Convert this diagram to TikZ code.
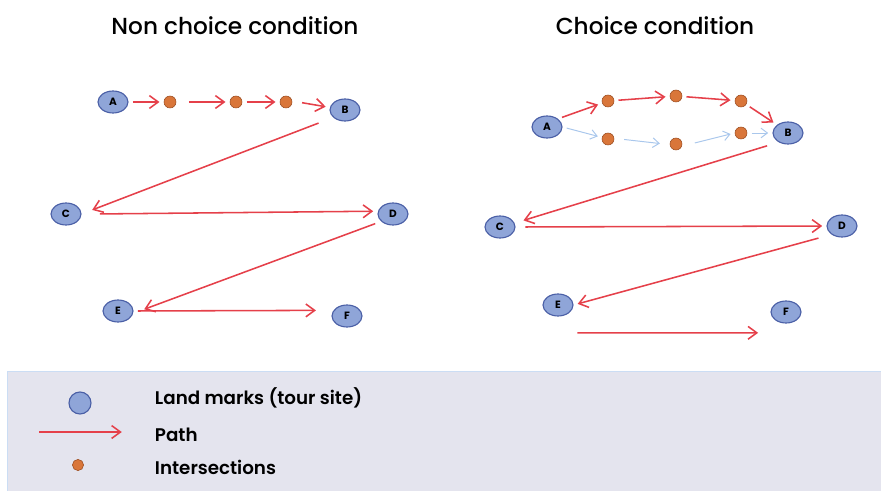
\documentclass[tikz,border=0pt]{standalone}
\usepackage{fontspec}
\setmainfont{Poppins}
\newfontfamily\popmed{Poppins Medium}
\newfontfamily\popsemi{Poppins SemiBold}
\usetikzlibrary{shapes.geometric, arrows.meta}

\definecolor{markfill}{HTML}{8FA5D8}
\definecolor{markline}{HTML}{4A5FA6}
\definecolor{crossfill}{HTML}{D9763A}
\definecolor{crossline}{HTML}{9C4E22}
\definecolor{pathred}{HTML}{E5404A}
\definecolor{pathblue}{HTML}{A9C7EC}
\definecolor{legendbg}{HTML}{E4E4EE}

\begin{document}
\begin{tikzpicture}[x=0.025cm, y=-0.025cm,
        landmark/.style={ellipse, draw=markline, fill=markfill, thick, inner sep=0pt, minimum width=7.5mm, minimum height=5.5mm, font=\fontsize{7.5}{7.5}\selectfont\bfseries},
        cross/.style={circle, draw=crossline, fill=crossfill, inner sep=0pt, minimum size=3mm},
        paths/.style={-{Straight Barb[length=2.2mm, width=3.2mm]}, line width=1.1pt, pathred, shorten <=3pt, shorten >=3pt},
        altpath/.style={-{Straight Barb[length=1.6mm, width=2.4mm]}, line width=0.7pt, pathblue, shorten <=3pt, shorten >=3pt},
        title/.style={font=\popmed\fontsize{16.5}{16.5}\selectfont},
        legtext/.style={anchor=west, font=\popsemi\fontsize{13}{13}\selectfont}
    ]
        \useasboundingbox (0,0) rectangle (881,491);

        % Titles
        \node[title] (tleft) at (235,26) {Non choice condition};
        \node[title] (tright) at (655,26) {Choice condition};

        % Nodes: non choice
        \node[landmark] (a0) at (113,102) {A};
        \node[landmark] (b0) at (345,110) {B};
        \node[landmark] (c0) at (66,214) {C};
        \node[landmark] (d0) at (393,214) {D};
        \node[landmark] (e0) at (118,311) {E};
        \node[landmark] (f0) at (347,316) {F};

        \node[cross] (i1) at (170,102) {};
        \node[cross] (i2) at (236,102) {};
        \node[cross] (i3) at (286,102) {};

        % Paths: non choice
        \draw[paths] (a0) -- (i1);
        \draw[paths] ([xshift=6pt]i1.east) -- (i2);
        \draw[paths] (i2) -- (i3);
        \draw[paths] ([xshift=4pt]i3.east) -- (b0);
        \draw[paths] ([xshift=-16pt]b0.south) -- ([xshift=8pt,yshift=-4pt]c0.north east);
        \draw[paths] ([xshift=10pt]c0.east) -- ([yshift=2pt]d0.west);
        \draw[paths] ([xshift=-2pt]d0.south west) -- ([xshift=8pt,yshift=6pt]e0.south east);
        \draw[paths] (e0.east) -- ([xshift=-8pt,yshift=4pt]f0.west);

        % Nodes: choice
        \node[landmark] (a1) at (547,127) {A};
        \node[landmark] (b1) at (788,133) {B};
        \node[landmark] (c1) at (500,227) {C};
        \node[landmark] (d1) at (842,226) {D};
        \node[landmark] (e1) at (558,305) {E};
        \node[landmark] (f1) at (786,312) {F};

        \node[cross] (u1) at (608,101) {};
        \node[cross] (u2) at (676,96) {};
        \node[cross] (u3) at (741,101) {};
        \node[cross] (l1) at (608,139) {};
        \node[cross] (l2) at (676,144) {};
        \node[cross] (l3) at (741,133) {};

        % Paths: choice
        \draw[paths] (a1.north east) -- (u1);
        \draw[paths] (u1) -- (u2);
        \draw[paths] (u2) -- (u3);
        \draw[paths] (u3) -- (b1.north west);
        \draw[altpath] (a1.east) -- (l1);
        \draw[altpath] ([xshift=4pt]l1.east) -- ([xshift=-4pt]l2.west);
        \draw[altpath] ([xshift=6pt]l2.east) -- (l3.west);
        \draw[altpath] (l3.east) -- (b1.west);
        \draw[paths] ([xshift=-12pt]b1.south) -- ([xshift=6pt,yshift=-2pt]c1.north east);
        \draw[paths] ([xshift=4pt]c1.east) -- (d1.west);
        \draw[paths] ([xshift=-6pt,yshift=-2pt]d1.south west) -- (e1.east);
        \draw[paths] ([xshift=3pt,yshift=-14pt]e1.south east) -- ([xshift=-9pt,yshift=-9pt]f1.south west);

        % Legend
        \node[draw=pathblue!60, fill=legendbg, inner sep=0pt, minimum width=875*0.025cm, minimum height=121*0.025cm, anchor=north west] (legend) at (7,371) {};
        \node[circle, draw=markline, fill=markfill, thick, inner sep=0pt, minimum width=5.5mm] (legmark) at (80,403) {};
        \node[legtext] (legmarktext) at (150,398) {Land marks (tour site)};
        \coordinate (legpathstart) at (35,432);
        \coordinate (legpathend) at (126,432);
        \draw[paths] (legpathstart) -- (legpathend);
        \node[legtext] (legpathtext) at (150,435) {Path};
        \node[cross, minimum size=2.8mm] (legcross) at (78,465) {};
        \node[legtext] (legcrosstext) at (150,467) {Intersections};
    \end{tikzpicture}
\end{document}
